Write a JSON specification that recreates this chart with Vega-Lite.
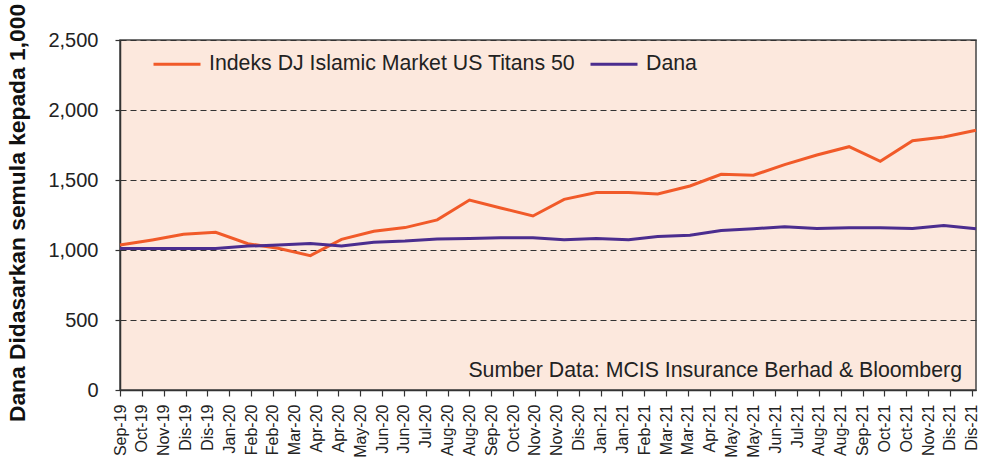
{
  "$schema": "https://vega.github.io/schema/vega-lite/v6.json",
  "width": 856,
  "height": 350,
  "autosize": "none",
  "padding": {"left": 120, "top": 40, "right": 12, "bottom": 78},
  "background": "#ffffff",
  "config": {
    "font": "Liberation Sans",
    "view": {"fill": "#fce8dd", "stroke": "#444444", "strokeWidth": 1.5},
    "axis": {"labelColor": "#222222", "titleColor": "#111111", "domainColor": "#333333", "tickColor": "#333333", "domainWidth": 1.5},
    "axisX": {"labelOverlap": false}
  },
  "datasets": {
    "series": [
      {"date": "2019-09-30", "series": "Indeks DJ Islamic Market US Titans 50", "value": 1035},
      {"date": "2019-10-31", "series": "Indeks DJ Islamic Market US Titans 50", "value": 1072},
      {"date": "2019-11-30", "series": "Indeks DJ Islamic Market US Titans 50", "value": 1112},
      {"date": "2019-12-31", "series": "Indeks DJ Islamic Market US Titans 50", "value": 1126},
      {"date": "2020-01-31", "series": "Indeks DJ Islamic Market US Titans 50", "value": 1045},
      {"date": "2020-02-29", "series": "Indeks DJ Islamic Market US Titans 50", "value": 1012},
      {"date": "2020-03-31", "series": "Indeks DJ Islamic Market US Titans 50", "value": 960},
      {"date": "2020-04-30", "series": "Indeks DJ Islamic Market US Titans 50", "value": 1076},
      {"date": "2020-05-31", "series": "Indeks DJ Islamic Market US Titans 50", "value": 1134},
      {"date": "2020-06-30", "series": "Indeks DJ Islamic Market US Titans 50", "value": 1160},
      {"date": "2020-07-31", "series": "Indeks DJ Islamic Market US Titans 50", "value": 1215},
      {"date": "2020-08-31", "series": "Indeks DJ Islamic Market US Titans 50", "value": 1357},
      {"date": "2020-09-30", "series": "Indeks DJ Islamic Market US Titans 50", "value": 1300},
      {"date": "2020-10-31", "series": "Indeks DJ Islamic Market US Titans 50", "value": 1243},
      {"date": "2020-11-30", "series": "Indeks DJ Islamic Market US Titans 50", "value": 1362},
      {"date": "2020-12-31", "series": "Indeks DJ Islamic Market US Titans 50", "value": 1410},
      {"date": "2021-01-31", "series": "Indeks DJ Islamic Market US Titans 50", "value": 1410},
      {"date": "2021-02-28", "series": "Indeks DJ Islamic Market US Titans 50", "value": 1400},
      {"date": "2021-03-31", "series": "Indeks DJ Islamic Market US Titans 50", "value": 1457},
      {"date": "2021-04-30", "series": "Indeks DJ Islamic Market US Titans 50", "value": 1541},
      {"date": "2021-05-31", "series": "Indeks DJ Islamic Market US Titans 50", "value": 1534},
      {"date": "2021-06-30", "series": "Indeks DJ Islamic Market US Titans 50", "value": 1610},
      {"date": "2021-07-31", "series": "Indeks DJ Islamic Market US Titans 50", "value": 1679},
      {"date": "2021-08-31", "series": "Indeks DJ Islamic Market US Titans 50", "value": 1738},
      {"date": "2021-09-30", "series": "Indeks DJ Islamic Market US Titans 50", "value": 1634},
      {"date": "2021-10-31", "series": "Indeks DJ Islamic Market US Titans 50", "value": 1781},
      {"date": "2021-11-30", "series": "Indeks DJ Islamic Market US Titans 50", "value": 1807},
      {"date": "2021-12-31", "series": "Indeks DJ Islamic Market US Titans 50", "value": 1855},
      {"date": "2019-09-30", "series": "Dana", "value": 1010},
      {"date": "2019-10-31", "series": "Dana", "value": 1010},
      {"date": "2019-11-30", "series": "Dana", "value": 1010},
      {"date": "2019-12-31", "series": "Dana", "value": 1011},
      {"date": "2020-01-31", "series": "Dana", "value": 1028},
      {"date": "2020-02-29", "series": "Dana", "value": 1035},
      {"date": "2020-03-31", "series": "Dana", "value": 1047},
      {"date": "2020-04-30", "series": "Dana", "value": 1028},
      {"date": "2020-05-31", "series": "Dana", "value": 1056},
      {"date": "2020-06-30", "series": "Dana", "value": 1064},
      {"date": "2020-07-31", "series": "Dana", "value": 1078},
      {"date": "2020-08-31", "series": "Dana", "value": 1083},
      {"date": "2020-09-30", "series": "Dana", "value": 1087},
      {"date": "2020-10-31", "series": "Dana", "value": 1087},
      {"date": "2020-11-30", "series": "Dana", "value": 1073},
      {"date": "2020-12-31", "series": "Dana", "value": 1083},
      {"date": "2021-01-31", "series": "Dana", "value": 1073},
      {"date": "2021-02-28", "series": "Dana", "value": 1097},
      {"date": "2021-03-31", "series": "Dana", "value": 1106},
      {"date": "2021-04-30", "series": "Dana", "value": 1140},
      {"date": "2021-05-31", "series": "Dana", "value": 1152},
      {"date": "2021-06-30", "series": "Dana", "value": 1166},
      {"date": "2021-07-31", "series": "Dana", "value": 1154},
      {"date": "2021-08-31", "series": "Dana", "value": 1159},
      {"date": "2021-09-30", "series": "Dana", "value": 1159},
      {"date": "2021-10-31", "series": "Dana", "value": 1154},
      {"date": "2021-11-30", "series": "Dana", "value": 1175},
      {"date": "2021-12-31", "series": "Dana", "value": 1152}
    ],
    "note": [
      {"text": "Sumber Data: MCIS Insurance Berhad & Bloomberg", "date": "2021-12-31", "value": 92}
    ]
  },
  "layer": [
    {
      "data": {"name": "series"},
      "mark": {"type": "line", "strokeWidth": 3, "strokeJoin": "miter", "clip": false},
      "encoding": {
        "x": {
          "field": "date",
          "type": "temporal",
          "scale": {
            "type": "utc",
            "nice": false,
            "domain": [1569801600000, 1640908800000]
          },
          "axis": {
            "title": null,
            "grid": false,
            "tickCount": 100,
            "tickSize": 6,
            "tickWidth": 1.2,
            "labelAngle": -90,
            "labelFontSize": 16,
            "labelPadding": 8,
            "labelOverlap": false,
            "labelSeparation": 0,
            "labelFlush": false,
            "labelBound": false,
            "labelExpr": "replace(utcFormat(datum.value, '%b-%y'), 'Dec', 'Dis')",
            "values": [1569801600000, 1571616000000, 1573430400000, 1575244800000, 1577059200000, 1578873600000, 1580688000000, 1582502400000, 1584316800000, 1586131200000, 1587945600000, 1589760000000, 1591574400000, 1593388800000, 1595203200000, 1597017600000, 1598832000000, 1600646400000, 1602460800000, 1604275200000, 1606089600000, 1607904000000, 1609718400000, 1611532800000, 1613347200000, 1615161600000, 1616976000000, 1618790400000, 1620604800000, 1622419200000, 1624233600000, 1626048000000, 1627862400000, 1629676800000, 1631491200000, 1633305600000, 1635120000000, 1636934400000, 1638748800000, 1640563200000]
          }
        },
        "y": {
          "field": "value",
          "type": "quantitative",
          "scale": {"domain": [0, 2500], "nice": false, "zero": true},
          "axis": {
            "title": "Dana Didasarkan semula kepada 1,000",
            "titleFontSize": 22.8,
            "titleFontWeight": "bold",
            "titleBaseline": "alphabetic",
            "titleX": -96,
            "titleY": 172.5,
            "values": [0, 500, 1000, 1500, 2000, 2500],
            "format": ",.0f",
            "labelFontSize": 20,
            "labelPadding": 17,
            "tickSize": 5,
            "tickWidth": 1.2,
            "grid": true,
            "gridColor": "#333333",
            "gridDash": [6, 4],
            "gridWidth": 1.2
          }
        },
        "color": {
          "field": "series",
          "type": "nominal",
          "scale": {
            "domain": ["Indeks DJ Islamic Market US Titans 50", "Dana"],
            "range": ["#f15a29", "#4b2d8f"]
          },
          "legend": {
            "title": null,
            "orient": "none",
            "legendX": 32,
            "legendY": -1,
            "direction": "horizontal",
            "padding": 0,
            "symbolType": "stroke",
            "symbolSize": 2209,
            "symbolStrokeWidth": 3,
            "labelFontSize": 21.3,
            "labelColor": "#222222",
            "labelOffset": 7,
            "columnPadding": 8,
            "labelLimit": 600
          }
        }
      }
    },
    {
      "data": {"name": "note"},
      "mark": {"type": "text", "align": "right", "baseline": "alphabetic", "fontSize": 21.3, "color": "#222222", "dx": -14},
      "encoding": {
        "x": {"field": "date", "type": "temporal"},
        "y": {"field": "value", "type": "quantitative"},
        "text": {"field": "text"}
      }
    }
  ]
}
